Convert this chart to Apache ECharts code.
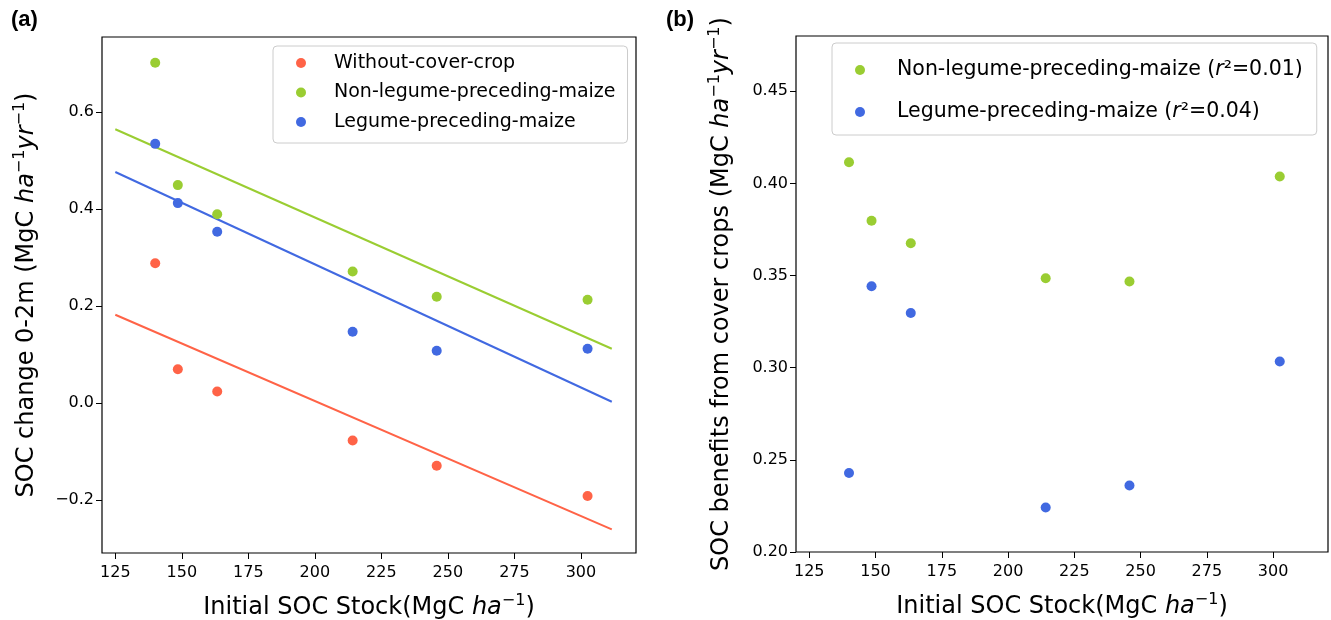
<!DOCTYPE html>
<html>
<head>
<meta charset="utf-8">
<script src="https://cdn.jsdelivr.net/npm/echarts@6/dist/echarts.min.js"></script>
<style>html,body{margin:0;padding:0;background:#fff;}#c{width:1331px;height:620px;}</style>
</head>
<body>
<div id="c"></div>
<script>
// ---- data ----
const xStock = [140, 148.5, 163.3, 214.2, 245.8, 302.5];
const socWithout = [0.288, 0.070, 0.024, -0.077, -0.129, -0.191];
const socNonLegume = [0.701, 0.449, 0.389, 0.271, 0.219, 0.213];
const socLegume = [0.534, 0.412, 0.353, 0.147, 0.108, 0.112];
const fitX = [125, 311.6];
const fitWithout = [0.182, -0.260];
const fitNonLegume = [0.564, 0.112];
const fitLegume = [0.476, 0.003];
const benefitNonLegume = [0.4115, 0.3797, 0.3675, 0.3485, 0.3468, 0.4038];
const benefitLegume = [0.2429, 0.3442, 0.3297, 0.2241, 0.2361, 0.3034];
const xTicks = [125, 150, 175, 200, 225, 250, 275, 300];
const yTicksA = [-0.2, 0.0, 0.2, 0.4, 0.6];
const yTicksB = [0.20, 0.25, 0.30, 0.35, 0.40, 0.45];
const namesA = ['Without-cover-crop', 'Non-legume-preceding-maize', 'Legume-preceding-maize'];
const namesB = ['Non-legume-preceding-maize (r²=0.01)', 'Legume-preceding-maize (r²=0.04)'];

const RED = '#FF6347', GREEN = '#9ACD32', BLUE = '#4169E1';
const FONT = 'DejaVu Sans';

function pairs(xs, ys) { return xs.map((x, i) => [x, ys[i]]); }
function fmtNum(d) { return v => (v < 0 ? '\u2212' : '') + Math.abs(v).toFixed(d); }

const nameRich = {
  a: { fontFamily: FONT, fontSize: 24, color: '#000', lineHeight: 30 },
  i: { fontFamily: FONT, fontSize: 24, fontStyle: 'italic', color: '#000', lineHeight: 30 },
  s: { fontFamily: FONT, fontSize: 16, color: '#000', lineHeight: 30, verticalAlign: 'top', padding: [0, 0, 9, 0] }
};
const xName = '{a|Initial SOC Stock(MgC }{i|ha}{s|\u22121}{a|)}';

function xAxisCfg(idx) {
  return {
    type: 'value', gridIndex: idx, min: 120, max: 320.7,
    name: xName, nameLocation: 'middle', nameGap: 40,
    nameTextStyle: { rich: nameRich },
    splitLine: { show: false },
    axisLine: { show: false, onZero: false },
    axisTick: { show: true, length: 6, lineStyle: { color: '#000' }, customValues: xTicks },
    axisLabel: { customValues: xTicks, fontFamily: FONT, fontSize: 16, color: '#000', margin: 12, formatter: v => String(Math.round(v)) }
  };
}
function yAxisCfg(idx, min, max, ticks, dec, name, gap) {
  return {
    type: 'value', gridIndex: idx, min: min, max: max,
    name: name, nameLocation: 'middle', nameGap: gap, nameRotate: 90,
    nameTextStyle: { rich: nameRich },
    splitLine: { show: false },
    axisLine: { show: false, onZero: false },
    axisTick: { show: true, length: 6, lineStyle: { color: '#000' }, customValues: ticks },
    axisLabel: { customValues: ticks, fontFamily: FONT, fontSize: 16, color: '#000', margin: 8, formatter: fmtNum(dec) }
  };
}

const legendRich = {
  t: { fontFamily: FONT, fontSize: 20.5, color: '#000' },
  i: { fontFamily: FONT, fontSize: 20.5, fontStyle: 'italic', color: '#000' }
};

const chart = echarts.init(document.getElementById('c'), null, { renderer: 'canvas' });
chart.setOption({
  animation: false,
  backgroundColor: '#fff',
  title: [
    { text: '(a)', left: 6, top: 4, textStyle: { fontFamily: 'Liberation Sans', fontWeight: 'bold', fontSize: 22, color: '#000' } },
    { text: '(b)', left: 661, top: 4, textStyle: { fontFamily: 'Liberation Sans', fontWeight: 'bold', fontSize: 22, color: '#000' } }
  ],
  grid: [
    { left: 102, top: 37, width: 534, height: 516, show: true, borderColor: '#000', borderWidth: 1.2, backgroundColor: 'transparent', containLabel: false, outerBoundsMode: 'none' },
    { left: 796, top: 36, width: 532, height: 516, show: true, borderColor: '#000', borderWidth: 1.2, backgroundColor: 'transparent', containLabel: false, outerBoundsMode: 'none' }
  ],
  legend: [
    {
      data: namesA, orient: 'vertical', left: 273, top: 46,
      padding: [6, 12, 10, 23], itemGap: 7.5, itemWidth: 10, itemHeight: 10,
      backgroundColor: '#fff', borderColor: '#cccccc', borderWidth: 1, borderRadius: 4,
      icon: 'circle',
      textStyle: { fontFamily: FONT, fontSize: 19, color: '#000', lineHeight: 22, padding: [0, 0, 0, 23] }
    },
    {
      data: namesB, orient: 'vertical', left: 832, top: 43,
      padding: [15, 14, 11, 23], itemGap: 18, itemWidth: 10, itemHeight: 10,
      backgroundColor: '#fff', borderColor: '#cccccc', borderWidth: 1, borderRadius: 4,
      icon: 'circle',
      formatter: n => {
        const m = n.match(/^(.*)\(r²=(.*)\)$/);
        return '{t|' + m[1] + '(}{i|r}{t|²=' + m[2] + ')}';
      },
      textStyle: { fontFamily: FONT, fontSize: 20.5, color: '#000', lineHeight: 24, padding: [0, 0, 0, 27], rich: legendRich }
    }
  ],
  xAxis: [xAxisCfg(0), xAxisCfg(1)],
  yAxis: [
    yAxisCfg(0, -0.3085, 0.754, yTicksA, 1, '{a|SOC change 0-2m (MgC }{i|ha}{s|\u22121}{i|yr}{s|\u22121}{a|)}', 60),
    yAxisCfg(1, 0.2, 0.480, yTicksB, 2, '{a|SOC benefits from cover crops (MgC }{i|ha}{s|\u22121}{i|yr}{s|\u22121}{a|)}', 59)
  ],
  series: [
    { name: 'fitWithout', type: 'line', xAxisIndex: 0, yAxisIndex: 0, data: pairs(fitX, fitWithout), showSymbol: false, symbol: 'none', lineStyle: { color: RED, width: 2 }, itemStyle: { color: RED }, z: 2 },
    { name: 'fitNonLegume', type: 'line', xAxisIndex: 0, yAxisIndex: 0, data: pairs(fitX, fitNonLegume), showSymbol: false, symbol: 'none', lineStyle: { color: GREEN, width: 2 }, itemStyle: { color: GREEN }, z: 2 },
    { name: 'fitLegume', type: 'line', xAxisIndex: 0, yAxisIndex: 0, data: pairs(fitX, fitLegume), showSymbol: false, symbol: 'none', lineStyle: { color: BLUE, width: 2 }, itemStyle: { color: BLUE }, z: 2 },
    { name: namesA[0], type: 'scatter', xAxisIndex: 0, yAxisIndex: 0, data: pairs(xStock, socWithout), symbolSize: 10, itemStyle: { color: RED, opacity: 1 }, z: 3 },
    { name: namesA[1], type: 'scatter', xAxisIndex: 0, yAxisIndex: 0, data: pairs(xStock, socNonLegume), symbolSize: 10, itemStyle: { color: GREEN, opacity: 1 }, z: 3 },
    { name: namesA[2], type: 'scatter', xAxisIndex: 0, yAxisIndex: 0, data: pairs(xStock, socLegume), symbolSize: 10, itemStyle: { color: BLUE, opacity: 1 }, z: 3 },
    { name: namesB[0], type: 'scatter', xAxisIndex: 1, yAxisIndex: 1, data: pairs(xStock, benefitNonLegume), symbolSize: 10, itemStyle: { color: GREEN, opacity: 1 }, z: 3 },
    { name: namesB[1], type: 'scatter', xAxisIndex: 1, yAxisIndex: 1, data: pairs(xStock, benefitLegume), symbolSize: 10, itemStyle: { color: BLUE, opacity: 1 }, z: 3 }
  ]
});
</script>
</body>
</html>
